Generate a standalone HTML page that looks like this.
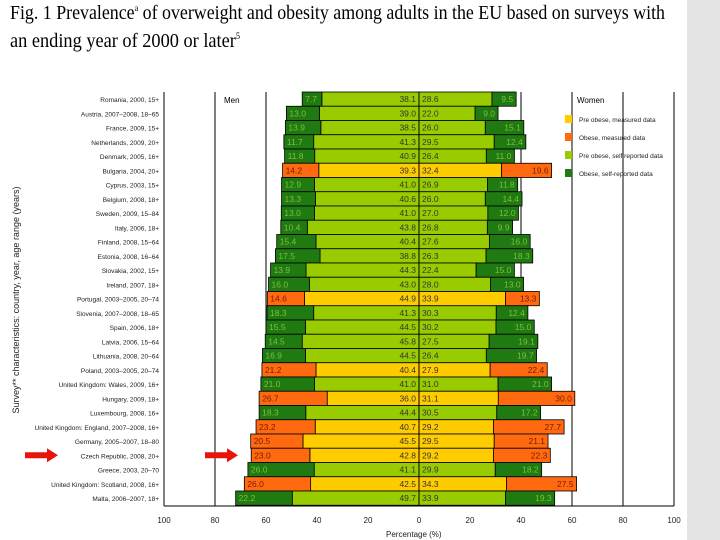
<!DOCTYPE html>
<html><head><meta charset="utf-8"><style>
html,body{margin:0;padding:0;background:#fff;width:720px;height:540px;overflow:hidden}
svg{display:block}
</style></head><body>
<svg id="c" width="720" height="540" xmlns="http://www.w3.org/2000/svg">
<rect x="687" y="0" width="33" height="540" fill="#e4e4e4"/>
<text x="10" y="19" font-family="Liberation Serif, serif" font-size="20" textLength="655" lengthAdjust="spacingAndGlyphs">Fig. 1 Prevalence<tspan font-size="9" dy="-8">a</tspan><tspan dy="8"> of overweight and obesity among adults in the EU based on surveys with</tspan></text>
<text x="10" y="47" font-family="Liberation Serif, serif" font-size="20" textLength="230" lengthAdjust="spacingAndGlyphs">an ending year of 2000 or later<tspan font-size="9" dy="-8">5</tspan></text>
<g id="grid"></g>
<g id="bars"></g>
<g id="labels"></g>
<g id="axis"></g>
</svg>
<script>
const countries=["Romania, 2000, 15+","Austria, 2007–2008, 18–65","France, 2009, 15+","Netherlands, 2009, 20+","Denmark, 2005, 16+","Bulgaria, 2004, 20+","Cyprus, 2003, 15+","Belgium, 2008, 18+","Sweden, 2009, 15–84","Italy, 2006, 18+","Finland, 2008, 15–64","Estonia, 2008, 16–64","Slovakia, 2002, 15+","Ireland, 2007, 18+","Portugal, 2003–2005, 20–74","Slovenia, 2007–2008, 18–65","Spain, 2006, 18+","Latvia, 2006, 15–64","Lithuania, 2008, 20–64","Poland, 2003–2005, 20–74","United Kingdom: Wales, 2009, 16+","Hungary, 2009, 18+","Luxembourg, 2008, 16+","United Kingdom: England, 2007–2008, 16+","Germany, 2005–2007, 18–80","Czech Republic, 2008, 20+","Greece, 2003, 20–70","United Kingdom: Scotland, 2008, 16+","Malta, 2006–2007, 18+"];
const menObese=[7.7,13.0,13.9,11.7,11.8,14.2,12.9,13.3,13.0,10.4,15.4,17.5,13.9,16.0,14.6,18.3,15.5,14.5,16.9,21.2,21.0,26.7,18.3,23.2,20.5,23.0,26.0,26.0,22.2];
const menPre=[38.1,39.0,38.5,41.3,40.9,39.3,41.0,40.6,41.0,43.8,40.4,38.8,44.3,43.0,44.9,41.3,44.5,45.8,44.5,40.4,41.0,36.0,44.4,40.7,45.5,42.8,41.1,42.5,49.7];
const womenPre=[28.6,22.0,26.0,29.5,26.4,32.4,26.9,26.0,27.0,26.8,27.6,26.3,22.4,28.0,33.9,30.3,30.2,27.5,26.4,27.9,31.0,31.1,30.5,29.2,29.5,29.2,29.9,34.3,33.9];
const womenObese=[9.5,9.0,15.1,12.4,11.0,19.6,11.8,14.4,12.0,9.9,16.0,18.3,15.0,13.0,13.3,12.4,15.0,19.1,19.7,22.4,21.0,30.0,17.2,27.7,21.1,22.3,18.2,27.5,19.3];
const measured=[0,0,0,0,0,1,0,0,0,0,0,0,0,0,1,0,0,0,0,1,0,1,0,1,1,1,0,1,0];
const ticks=[100,80,60,40,20,0,20,40,60,80,100];
const tickVals=[-100,-80,-60,-40,-20,0,20,40,60,80,100];

const NS="http://www.w3.org/2000/svg";
const X0=419, SC=2.55, TOP=92, PITCH=14.25, BOT=506;
const x=v=>X0+v*SC;
const yTop=i=>TOP+i*PITCH;
const C={lg:"#99cc00",dg:"#1f7a12",yl:"#ffcc00",or:"#ff6a10"};
function mk(tag,attrs,parent){const e=document.createElementNS(NS,tag);for(const k in attrs)e.setAttribute(k,attrs[k]);parent.appendChild(e);return e;}
const grid=document.getElementById('grid'),bars=document.getElementById('bars'),labels=document.getElementById('labels'),axis=document.getElementById('axis');
tickVals.forEach(v=>{if(v===0)return;const l=mk('line',{x1:x(v),x2:x(v),y1:TOP,y2:BOT,stroke:'#000','stroke-width':1},grid);

});
function bar(x1,x2,i,fill,name){const r=mk('rect',{x:Math.min(x1,x2),y:yTop(i),width:Math.abs(x2-x1),height:PITCH,fill:fill,stroke:'#000','stroke-width':0.8},bars);

return r;}
function txt(s,xx,yy,anchor,size,fill,parent,name,fam){const t=mk('text',{x:xx,y:yy,'text-anchor':anchor,'font-size':size,fill:fill,'font-family':fam||'Liberation Sans, sans-serif'},parent);t.textContent=s;

return t;}
countries.forEach((c,i)=>{
 const m=measured[i];const pre=m?C.yl:C.lg, ob=m?C.or:C.dg;
 bar(x(-menPre[i]),x(0),i,pre,'men-preobese-bar');
 bar(x(-menPre[i]-menObese[i]),x(-menPre[i]),i,ob,'men-obese-bar');
 bar(x(0),x(womenPre[i]),i,pre,'women-preobese-bar');
 bar(x(womenPre[i]),x(womenPre[i]+womenObese[i]),i,ob,'women-obese-bar');
 const cy=yTop(i)+PITCH/2+3;
 const tc=m?'#7a1a00':'#7fbf3f';
 txt(menObese[i].toFixed(1),x(-menPre[i]-menObese[i])+3,cy,'start',8.5,tc,labels,'men-obese-value');
 txt(menPre[i].toFixed(1),x(0)-3,cy,'end',8.5,'#333',labels,'men-preobese-value');
 txt(womenPre[i].toFixed(1),x(0)+3,cy,'start',8.5,'#333',labels,'women-preobese-value');
 txt(womenObese[i].toFixed(1),x(womenPre[i]+womenObese[i])-3,cy,'end',8.5,tc,labels,'women-obese-value');
 txt(c,159,cy,'end',6.5,'#222',labels,'country-label');
});
const vl=mk('line',{x1:X0,x2:X0,y1:TOP,y2:BOT,stroke:'#000','stroke-width':1},axis);


const xl=mk('line',{x1:x(-100),x2:x(100),y1:BOT,y2:BOT,stroke:'#000','stroke-width':1},axis);


tickVals.forEach((v,k)=>{txt(String(ticks[k]),x(v),523,'middle',8,'#222',axis,'x-tick-label');});
txt('Percentage (%)',386,537,'start',8,'#222',axis,'x-axis-title');
const yt=txt('Survey** characteristics: country, year, age range (years)',0,0,'middle',9,'#222',axis,'y-axis-title');
yt.setAttribute('transform','translate(19,300) rotate(-90)');
txt('Men',224,103,'start',8,'#000',axis,'men-label');
txt('Women',577,103,'start',8,'#000',axis,'women-label');
const leg=[["Pre obese, measured data",C.yl],["Obese, measured data",C.or],["Pre obese, self reported data",C.lg],["Obese, self-reported data",C.dg]];
leg.forEach((l,k)=>{const yy=121+k*18;
 const r=mk('rect',{x:565,y:yy-6,width:7,height:8,fill:l[1]},axis);
 
 
 txt(l[0],579,yy+1,'start',6.5,'#222',axis,'legend-entry');});
[[25,15],[205,15]].forEach(a=>{const p=mk('polygon',{points:`${a[0]},${yTop(25)+4} ${a[0]+22},${yTop(25)+4} ${a[0]+22},${yTop(25)} ${a[0]+33},${yTop(25)+7} ${a[0]+22},${yTop(25)+14} ${a[0]+22},${yTop(25)+10} ${a[0]},${yTop(25)+10}`,fill:'#e8140c'},axis);

});
</script>
</body></html>
